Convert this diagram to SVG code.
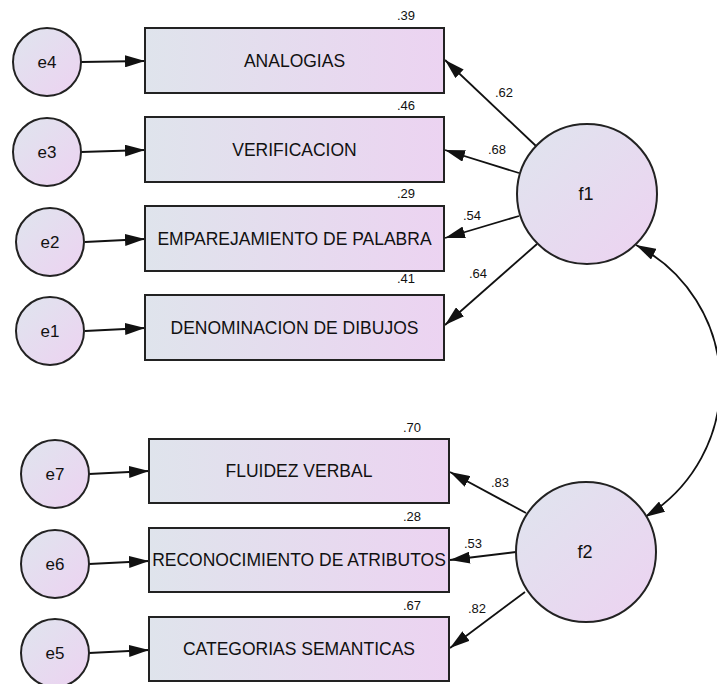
<svg xmlns="http://www.w3.org/2000/svg" width="717" height="684" viewBox="0 0 717 684">
<defs>
<linearGradient id="gBox" x1="0" y1="0" x2="1" y2="0">
<stop offset="0" stop-color="#dfe4ec"/>
<stop offset="1" stop-color="#ecd3f1"/>
</linearGradient>
<linearGradient id="gCirc" x1="0" y1="0" x2="1" y2="1">
<stop offset="0" stop-color="#dfe5ee"/>
<stop offset="1" stop-color="#edd2f1"/>
</linearGradient>
<marker id="ah" markerUnits="userSpaceOnUse" markerWidth="20" markerHeight="12" refX="20" refY="6" orient="auto-start-reverse" viewBox="0 0 20 12">
<path d="M0,0 L20,6 L0,12 z" fill="#111"/>
</marker>
<style>
.box{fill:url(#gBox);stroke:#222;stroke-width:2}
.circ{fill:url(#gCirc);stroke:#222;stroke-width:2}
.lbl{font-family:"Liberation Sans",Arial,sans-serif;font-size:17.5px;fill:#111;text-anchor:middle}
.elbl{font-family:"Liberation Sans",Arial,sans-serif;font-size:17px;fill:#111;text-anchor:middle}
.flbl{font-family:"Liberation Sans",Arial,sans-serif;font-size:18px;fill:#111;text-anchor:middle}
.num{font-family:"Liberation Sans",Arial,sans-serif;font-size:13px;fill:#111;text-anchor:middle}
.con{stroke:#111;stroke-width:1.8;fill:none;marker-end:url(#ah)}
</style>
</defs>
<g id="connectors">
<line class="con" x1="81" y1="62" x2="145" y2="61"/>
<line class="con" x1="81" y1="152" x2="145" y2="150"/>
<line class="con" x1="85" y1="242" x2="145" y2="239"/>
<line class="con" x1="85" y1="331" x2="145" y2="328"/>
<line class="con" x1="89" y1="474" x2="149" y2="471"/>
<line class="con" x1="89" y1="564" x2="149" y2="561"/>
<line class="con" x1="89" y1="653" x2="149" y2="650"/>
<line class="con" x1="536" y1="146" x2="445" y2="60"/>
<line class="con" x1="519" y1="173" x2="445" y2="150"/>
<line class="con" x1="519" y1="216" x2="445" y2="238"/>
<line class="con" x1="537" y1="244" x2="445" y2="325"/>
<line class="con" x1="526" y1="513" x2="450" y2="472"/>
<line class="con" x1="516" y1="552" x2="450" y2="560"/>
<line class="con" x1="525" y1="592" x2="450" y2="648"/>
<path class="con" d="M636,245 A156,156 0 0 1 645,517" style="marker-start:url(#ah)"/>
<text class="num" x="504" y="97">.62</text>
<text class="num" x="497" y="154">.68</text>
<text class="num" x="472" y="220">.54</text>
<text class="num" x="478" y="278">.64</text>
<text class="num" x="500" y="487">.83</text>
<text class="num" x="473" y="548">.53</text>
<text class="num" x="477" y="613">.82</text>
</g>
<g id="e4"><circle class="circ" cx="47" cy="62" r="34"/><text class="elbl" x="47" y="68">e4</text></g>
<g id="e3"><circle class="circ" cx="47" cy="152" r="34"/><text class="elbl" x="47" y="158">e3</text></g>
<g id="e2"><circle class="circ" cx="50" cy="242" r="34"/><text class="elbl" x="50" y="248">e2</text></g>
<g id="e1"><circle class="circ" cx="50" cy="331" r="34"/><text class="elbl" x="50" y="337">e1</text></g>
<g id="e7"><circle class="circ" cx="55" cy="474" r="34"/><text class="elbl" x="55" y="480">e7</text></g>
<g id="e6"><circle class="circ" cx="55" cy="564" r="34"/><text class="elbl" x="55" y="570">e6</text></g>
<g id="e5"><circle class="circ" cx="55" cy="653" r="34"/><text class="elbl" x="55" y="659">e5</text></g>
<g id="analogias"><rect class="box" x="145" y="28" width="299" height="65"/><text class="lbl" x="294.5" y="67">ANALOGIAS</text><text class="num" x="406" y="20">.39</text></g>
<g id="verificacion"><rect class="box" x="145" y="117" width="299" height="65"/><text class="lbl" x="294.5" y="156">VERIFICACION</text><text class="num" x="406" y="110">.46</text></g>
<g id="emparejamiento"><rect class="box" x="145" y="206" width="299" height="65"/><text class="lbl" x="294.5" y="245">EMPAREJAMIENTO DE PALABRA</text><text class="num" x="406" y="198">.29</text></g>
<g id="denominacion"><rect class="box" x="145" y="295" width="299" height="65"/><text class="lbl" x="294.5" y="334">DENOMINACION DE DIBUJOS</text><text class="num" x="406" y="283">.41</text></g>
<g id="fluidez"><rect class="box" x="149" y="439" width="300" height="64"/><text class="lbl" x="299" y="477">FLUIDEZ VERBAL</text><text class="num" x="412" y="432">.70</text></g>
<g id="reconocimiento"><rect class="box" x="149" y="528" width="300" height="64"/><text class="lbl" x="299" y="566">RECONOCIMIENTO DE ATRIBUTOS</text><text class="num" x="412" y="521">.28</text></g>
<g id="categorias"><rect class="box" x="149" y="617" width="300" height="64"/><text class="lbl" x="299" y="655">CATEGORIAS SEMANTICAS</text><text class="num" x="412" y="610">.67</text></g>
<g id="f1"><circle class="circ" cx="587" cy="194" r="70"/><text class="flbl" x="586" y="200">f1</text></g>
<g id="f2"><circle class="circ" cx="586" cy="552" r="70"/><text class="flbl" x="585" y="558">f2</text></g>
</svg>
